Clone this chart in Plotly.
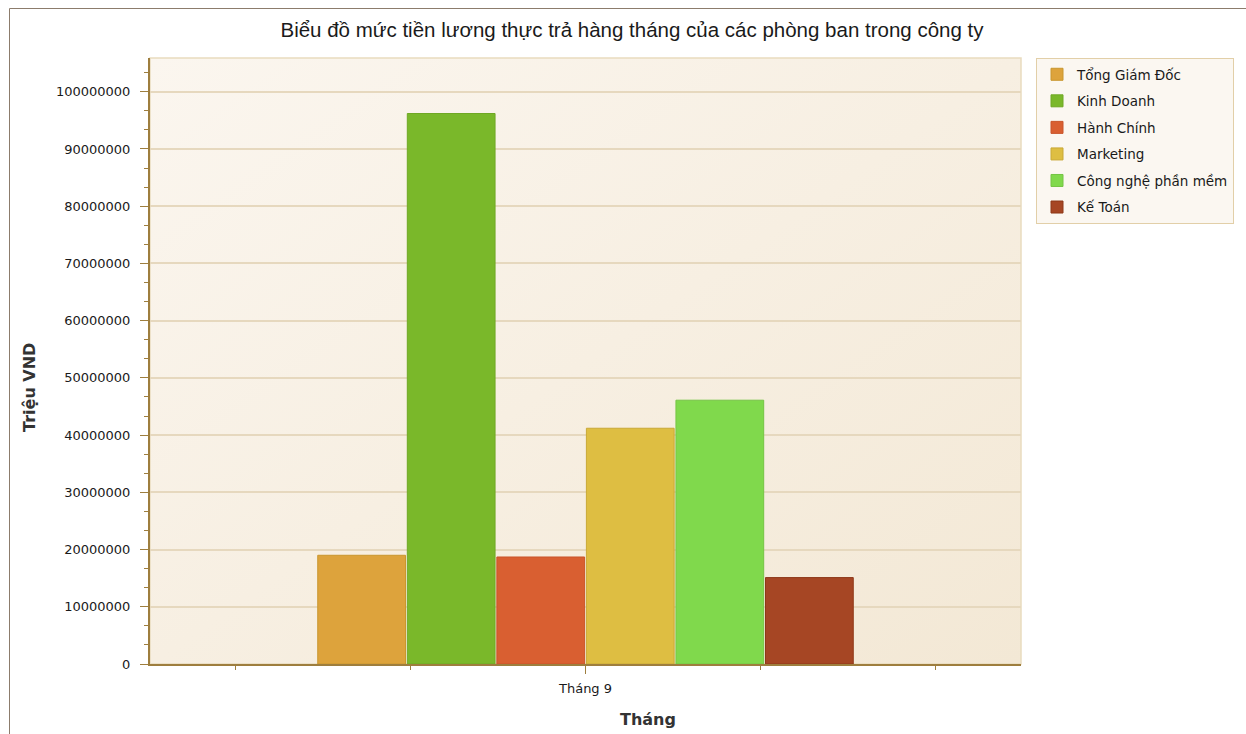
import base64
import plotly.graph_objects as go

# ---- data ----
months = ["Tháng 9"]
departments = ["Tổng Giám Đốc", "Kinh Doanh", "Hành Chính", "Marketing",
               "Công nghệ phần mềm", "Kế Toán"]
salaries = [19000000, 96200000, 18700000, 41200000, 46100000, 15100000]

title_text = "Biểu đồ mức tiền lương thực trả hàng tháng của các phòng ban trong công ty"
x_title = "Tháng"
y_title = "Triệu VND"

# ---- styles ----
fill_colors = ["#DDA33C", "#7AB82A", "#D95F31", "#DEBE42", "#80D94C", "#A64624"]
line_colors = ["#C9962E", "#6FA824", "#C9552A", "#C9A936", "#74C444", "#8E3818"]

W, H = 1246, 734
L, R, T, B = 150, 1021, 58, 664  # plot area in pixels
pw, ph = R - L, B - T

def px2x(px):
    return (px - L) / pw

def py2y(py):
    return (B - py) / ph

FONT = "DejaVu Sans"
AXIS_COL = "#9E7E3E"
GRID_COL = "#E6D8BE"

# diagonal gradient for the plot background (decoration only)
bg_svg = (
    '<svg xmlns="http://www.w3.org/2000/svg" width="100" height="100" '
    'viewBox="0 0 100 100" preserveAspectRatio="none">'
    '<defs><linearGradient id="g" x1="0" y1="0" x2="1" y2="1">'
    '<stop offset="0" stop-color="#FBF6EF"/>'
    '<stop offset="1" stop-color="#F3E8D5"/>'
    '</linearGradient></defs>'
    '<rect width="100" height="100" fill="url(#g)"/></svg>'
)
bg_uri = "data:image/svg+xml;base64," + base64.b64encode(bg_svg.encode()).decode()

fig = go.Figure()
xs = list(range(len(months)))
for name, val, fc, lc in zip(departments, salaries, fill_colors, line_colors):
    fig.add_trace(go.Bar(
        x=xs, y=[val], name=name,
        marker=dict(color=fc, line=dict(color=lc, width=1)),
        legendgroup=name,
    ))

# one x unit = width of the whole bar group
unit_px = 537.3
half = (pw / 2) / unit_px
minor_step = 175 / unit_px

fig.update_layout(
    width=W, height=H,
    margin=dict(l=L, r=W - R, t=T, b=H - B, pad=0),
    paper_bgcolor="white",
    plot_bgcolor="rgba(0,0,0,0)",
    barmode="group", bargap=0.0, bargroupgap=0.02,
    font=dict(family=FONT, size=13, color="#1A1A1A"),
    title=dict(text=title_text, x=632 / W, xref="container", xanchor="center",
               y=1 - 30 / H, yref="container", yanchor="middle",
               font=dict(family="Liberation Sans", size=20.5, color="#1A1A1A")),
    showlegend=True,
    legend=dict(x=px2x(1036), y=1.0, xanchor="left", yanchor="top",
                bgcolor="#FBF7F1", bordercolor="#E2CFA8", borderwidth=1,
                font=dict(family=FONT, size=13.5, color="#1A1A1A"),
                tracegroupgap=6, traceorder="grouped"),
    xaxis=dict(
        range=[-half, half], tickmode="array", tickvals=xs, ticktext=months,
        ticks="outside", ticklen=8, tickcolor=AXIS_COL, tickwidth=1,
        ticklabelstandoff=3,
        showline=True, linecolor=AXIS_COL, linewidth=2,
        showgrid=False, zeroline=False,
        minor=dict(dtick=minor_step, tick0=0, ticks="outside", ticklen=4,
                   tickcolor=AXIS_COL, showgrid=False),
        tickfont=dict(family=FONT, size=13),
    ),
    yaxis=dict(
        range=[0, 105.9e6], dtick=10e6, tick0=0, tickformat="d",
        ticks="outside", ticklen=8, tickcolor=AXIS_COL, tickwidth=1,
        ticklabelstandoff=7,
        showline=True, linecolor=AXIS_COL, linewidth=2,
        showgrid=True, gridcolor=GRID_COL, gridwidth=1.5, zeroline=False,
        minor=dict(dtick=10e6 / 3, tick0=0, ticks="outside", ticklen=4,
                   tickcolor=AXIS_COL, showgrid=False),
        tickfont=dict(family=FONT, size=13),
    ),
    images=[dict(source=bg_uri, xref="paper", yref="paper", x=0, y=1,
                 sizex=1, sizey=1, xanchor="left", yanchor="top",
                 sizing="stretch", layer="below")],
    annotations=[
        dict(text=f"<b>{x_title}</b>", xref="paper", yref="paper",
             x=px2x(648), y=py2y(719), xanchor="center", yanchor="middle",
             showarrow=False,
             font=dict(family=FONT, size=16, color="#333333")),
        dict(text=f"<b>{y_title}</b>", xref="paper", yref="paper",
             x=px2x(29), y=py2y(388), xanchor="center", yanchor="middle",
             showarrow=False, textangle=-90,
             font=dict(family=FONT, size=16, color="#333333")),
    ],
    shapes=[
        # outer chart frame
        dict(type="rect", xref="paper", yref="paper",
             x0=px2x(9.5), x1=px2x(W + 20), y0=py2y(H + 20), y1=py2y(8.5),
             line=dict(color="#8C7C6C", width=1), layer="below"),
        # faint plot-area border (top/right)
        dict(type="rect", xref="paper", yref="paper", x0=0, x1=1, y0=0, y1=1,
             line=dict(color="#E9DBBF", width=1.5), layer="below"),
    ],
)

fig.write_html("out.html")
